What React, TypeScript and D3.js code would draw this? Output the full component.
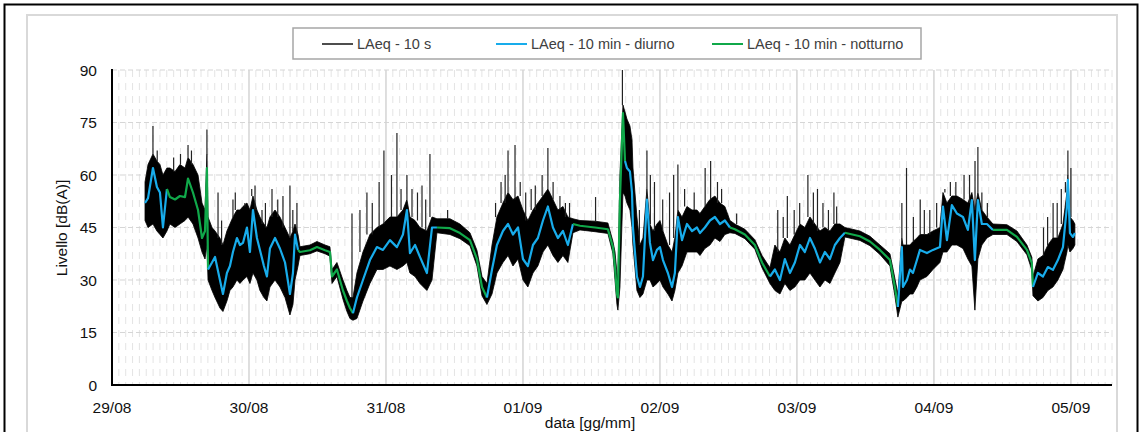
import React from 'react';
import * as d3 from 'd3';

// ---------- DATA (t = days since 29/08 00:00) ----------
const dayLabels = ['29/08', '30/08', '31/08', '01/09', '02/09', '03/09', '04/09', '05/09'];
const yTicks = [0, 15, 30, 45, 60, 75, 90];

const times = [
  0.241, 0.263, 0.299, 0.328, 0.350, 0.372, 0.401, 0.423, 0.460, 0.496, 0.533, 0.555, 0.591, 0.628, 0.657, 0.679, 0.693, 0.701,
  0.730, 0.752, 0.788, 0.810, 0.839, 0.861, 0.883, 0.912, 0.934, 0.956, 0.985, 1.007, 1.029, 1.058, 1.080, 1.109, 1.131, 1.153, 1.190, 1.226, 1.263, 1.299, 1.321, 1.336, 1.358,
  1.372, 1.445, 1.496, 1.555, 1.591, 1.606, 1.642, 1.686, 1.715, 1.737, 1.759,
  1.788, 1.832, 1.883, 1.934, 1.978, 2.029, 2.080, 2.124, 2.153, 2.175, 2.212, 2.248, 2.299, 2.336,
  2.372, 2.467, 2.540, 2.613, 2.664, 2.701, 2.737,
  2.774, 2.810, 2.854, 2.891, 2.927, 2.964, 3.000, 3.036, 3.073, 3.109, 3.146, 3.182, 3.219, 3.255, 3.292, 3.328, 3.365,
  3.416, 3.526, 3.620, 3.657, 3.672, 3.686, 3.693, 3.708, 3.730, 3.745,
  3.759, 3.781, 3.796, 3.803, 3.832, 3.854, 3.876, 3.905, 3.927, 3.949, 3.978, 4.000, 4.022, 4.058, 4.088, 4.109, 4.131, 4.161, 4.197, 4.234, 4.270, 4.292, 4.328, 4.365, 4.401, 4.438, 4.474, 4.511,
  4.547, 4.620, 4.693, 4.745, 4.803,
  4.839, 4.876, 4.912, 4.949, 4.985, 5.022, 5.058, 5.095, 5.131, 5.168, 5.204, 5.241, 5.277, 5.314,
  5.350, 5.460, 5.533, 5.606, 5.679, 5.715, 5.737,
  5.766, 5.774, 5.803, 5.825, 5.847, 5.876, 5.898, 5.949, 5.993, 6.044, 6.066, 6.095, 6.131, 6.168, 6.212, 6.248, 6.277, 6.299, 6.321, 6.350, 6.387,
  6.431, 6.533, 6.606, 6.679, 6.715, 6.723,
  6.759, 6.796, 6.832, 6.869, 6.905, 6.942, 6.971, 6.978, 6.993, 7.015, 7.029,
];

// LAeq - 10 min
const laeq10min = [
  52, 53.4, 62, 56.6, 55, 45, 56, 53.7, 53, 54, 53.7, 59, 55, 50, 42, 44, 62, 33,
  35, 36.6, 30, 26, 32, 34, 38, 42, 40, 40.6, 45, 38, 50, 42, 38.6, 34, 31, 39, 42, 39, 35, 26, 32, 43, 38.6,
  38, 38.5, 39.4, 38.5, 38, 31, 33, 27, 24, 22, 20.5,
  25, 30, 35.7, 39.4, 38.6, 41.4, 39.4, 43, 50, 37.7, 40, 36.6, 32, 45,
  45, 44.8, 43.4, 41.4, 36, 28, 25,
  33, 40, 44, 46, 43, 45, 36, 34, 40, 42, 47, 51, 45, 42, 44, 40, 46,
  45.5, 45, 44.5, 39.4, 33.7, 26, 25, 53, 77.7, 64,
  62, 61, 55, 45, 31, 28, 31, 53, 40.6, 35.7, 38.6, 39.4, 35.7, 32, 28, 32, 48, 41.4, 46, 44, 45, 43.4, 45, 47, 48, 46, 47, 45,
  44.5, 43, 40, 35, 31,
  33, 30, 36, 32, 35, 40, 38, 42, 39, 35, 38, 36, 40, 42,
  43.5, 42.5, 41, 38.6, 35.7, 28, 22.3,
  39.4, 28, 30, 33, 32, 35.7, 38.6, 37.7, 38.6, 39.4, 51, 41.4, 51.4, 49, 48, 44.3, 52.8, 35.7, 52.8, 46, 46,
  44.3, 44.3, 42.3, 38.6, 34.8, 28,
  32, 31, 33.7, 32.9, 35.7, 39.4, 51, 58.6, 43.4, 42.3, 43.4,
];

// LAeq - 10 s : lower and upper envelope of the dense trace
const laeq10sMin = [
  47, 45, 46, 44, 43, 42, 44, 46, 45, 46, 47, 48, 46, 42, 38, 36, 40, 30,
  27, 25, 22, 21, 24, 27, 28, 30, 29, 30, 31, 29, 32, 30, 27, 25, 24, 28, 30, 28, 25, 20, 23, 30, 34,
  37, 37.5, 38.3, 37.5, 36.8, 29, 31, 24.5, 21, 19, 18.5,
  19, 24, 29, 33, 33, 34, 33, 34, 35, 32, 31, 29, 27, 30,
  43.5, 43, 41.8, 39.8, 34, 25.5, 23,
  26, 32, 35, 37, 34, 36, 30, 28, 32, 34, 38, 40, 37, 35, 37, 35, 43.5,
  44.3, 43.8, 43.3, 37.5, 30, 23, 21.4, 28, 55, 54,
  52, 50, 45, 40, 27, 25, 26, 30, 30, 28, 29, 30, 28, 26, 24, 27, 32, 34, 38, 38, 38, 37, 39, 40, 42, 41, 43, 43.5,
  43.3, 41.8, 38.8, 33.5, 29,
  27, 26, 29, 27, 28, 30, 30, 32, 30, 28, 30, 29, 32, 35,
  42.3, 41.3, 39.8, 37.3, 34, 25.5, 19.4,
  24, 24, 25, 26, 26, 28, 30, 31, 33, 35, 38, 38, 40, 40, 39, 36, 34, 21.4, 36, 40, 42,
  43, 43, 41, 37.2, 32.8, 25.5,
  24, 25, 27, 28, 30, 33, 38, 40, 38, 39, 40,
];
const laeq10sMax = [
  58, 63, 66, 64, 63, 60, 62, 62, 61, 63, 62, 65, 63, 60, 52, 50, 66, 48,
  45, 44, 42, 40, 44, 46, 48, 50, 50, 51, 52, 50, 54, 50, 48, 46, 45, 48, 50, 48, 45, 42, 44, 46, 43,
  39.5, 40, 41, 40, 39.5, 33, 35, 30, 27, 25, 25,
  32, 38, 43, 45, 46, 48, 48, 50, 53, 48, 47, 45, 44, 48,
  47.5, 47.5, 46, 43.5, 38.5, 31, 29,
  40, 48, 52, 55, 53, 54, 50, 47, 50, 52, 54, 56, 53, 50, 51, 48, 47.5,
  47, 46.8, 46.3, 41, 38, 32, 30, 60, 80, 78,
  76, 74, 70, 62, 48, 40, 42, 56, 46, 44, 46, 47, 44, 40, 38, 42, 50, 48, 51, 50, 50, 49, 51, 53, 54, 52, 51, 47,
  46, 44.5, 41.5, 37, 33.5,
  40, 38, 42, 40, 43, 46, 45, 48, 46, 44, 45, 44, 46, 46,
  45, 44, 42.5, 40, 37.5, 30.5, 26,
  42, 40, 40, 40, 41, 42, 43, 43, 44, 45, 55, 52, 54, 54, 53, 52, 55, 50, 55, 50, 48,
  46, 45.8, 44, 40, 36.5, 31,
  36, 37, 40, 42, 42, 46, 55, 60, 48, 47, 46,
];

// isolated peaks of the 10 s trace
const spikeTimes = [
  0.299, 0.33, 0.45, 0.50, 0.555, 0.58, 0.693,
  0.774, 0.80, 0.883, 0.90, 0.970, 1.02, 1.044, 1.095, 1.12, 1.168, 1.21, 1.248, 1.299, 1.32, 1.350,
  1.752,
  1.810, 1.861, 1.90, 1.95, 1.985, 2.04, 2.080, 2.11, 2.153, 2.190, 2.23, 2.263, 2.29, 2.321,
  2.45,
  2.80, 2.84, 2.87, 2.891, 2.942, 2.98, 3.020, 3.06, 3.090, 3.14, 3.182, 3.22, 3.270, 3.310, 3.34,
  3.53, 3.726, 3.85, 3.905, 3.93, 3.96, 4.02, 4.07, 4.10, 4.131, 4.18, 4.25,
  4.33, 4.37, 4.42, 4.45, 4.56,
  4.86, 4.90, 4.93, 4.98, 5.02, 5.08, 5.12, 5.15, 5.19, 5.23, 5.27, 5.29,
  5.766, 5.80, 5.85, 5.90, 5.93, 5.97, 6.02, 6.08, 6.12, 6.16, 6.22, 6.26, 6.30, 6.321, 6.35, 6.39,
  6.80, 6.83, 6.87, 6.90, 6.93, 6.96, 6.978, 7.00,
];
const spikeLevels = [
  74, 67, 65, 66, 68.6, 67, 73,
  55, 47, 53, 55, 52, 56, 57, 50, 52, 56, 53, 54, 57, 50, 52,
  49,
  50, 55, 52, 58, 67, 60, 72, 56, 60, 56, 55, 57, 53, 66,
  50,
  52, 58, 60, 67, 68.6, 58, 55, 56, 57, 60, 67.7, 58, 54, 52, 52,
  53.7, 90, 50, 67, 60, 58, 53, 55, 60, 63, 56, 55,
  62, 64, 58, 56, 49,
  50, 48, 54, 50, 52, 60, 55, 56, 52, 50, 55, 51,
  52, 62, 48, 53, 50, 50, 52, 56, 58, 58, 60, 60, 64, 68, 55, 52,
  45, 48, 52, 52, 56, 58, 67, 62,
];

// night periods (notturno) shown in green
const nightStarts = [0.41, 1.365, 2.37, 3.36, 4.51, 5.34, 6.42];
const nightEnds = [0.70, 1.76, 2.74, 3.745, 4.80, 5.74, 6.72];

const legendLabels = ['LAeq - 10 s', 'LAeq - 10 min - diurno', 'LAeq - 10 min - notturno'];
const COLORS = { s10: '#000000', day: '#18ACEB', night: '#10A84A' };

type P = { t: number; m: number; lo: number; hi: number };

export default function App() {
  const x = d3.scaleLinear().domain([0, 7.3]).range([112, 1112]);
  const y = d3.scaleLinear().domain([0, 90]).range([385, 70]);

  const n = Math.min(times.length, laeq10min.length, laeq10sMin.length, laeq10sMax.length);
  const pts: P[] = d3.range(n).map((i) => ({ t: times[i], m: laeq10min[i], lo: laeq10sMin[i], hi: laeq10sMax[i] }));

  const area = d3
    .area<P>()
    .x((d) => x(d.t))
    .y0((d) => y(d.lo))
    .y1((d) => y(d.hi));

  const isNight = (t: number) => nightStarts.some((s, i) => t >= s && t <= nightEnds[i]);
  const runs: { night: boolean; pts: P[] }[] = [];
  for (let i = 0; i < n - 1; i++) {
    const night = isNight((pts[i].t + pts[i + 1].t) / 2);
    const last = runs[runs.length - 1];
    if (last && last.night === night) last.pts.push(pts[i + 1]);
    else runs.push({ night, pts: [pts[i], pts[i + 1]] });
  }
  const line = d3
    .line<P>()
    .x((d) => x(d.t))
    .y((d) => y(d.m));

  const hiAt = (t: number) => {
    const i = d3.bisector((d: P) => d.t).center(pts, t);
    return pts[i].hi;
  };

  const top = y(90);
  const bot = y(0);
  const minor: number[] = [];
  for (let k = 1; k <= 146; k++) if (k % 20 !== 0) minor.push(k / 20);

  const font = '"Liberation Sans", Arial, sans-serif';
  const ns = Math.min(spikeTimes.length, spikeLevels.length);

  const legendItems = [
    { label: legendLabels[0], color: '#4d4d4d', x0: 322 },
    { label: legendLabels[1], color: COLORS.day, x0: 496 },
    { label: legendLabels[2], color: COLORS.night, x0: 712 },
  ];

  return (
    <svg width={1141} height={432} style={{ position: 'absolute', left: 0, top: 0, background: '#fff' }}>
      <rect x={0} y={0} width={1141} height={432} fill="#fff" />
      <rect x={4.5} y={4.5} width={1133} height={460} fill="none" stroke="#000" strokeWidth={2} />
      <rect x={27} y={15} width={1090} height={460} fill="none" stroke="#d9d9d9" strokeWidth={2} />

      {minor.map((d) => (
        <line key={'mv' + d} x1={x(d)} x2={x(d)} y1={top} y2={bot} stroke="#e4e4e4" strokeWidth={1} strokeDasharray="7 6" />
      ))}
      {yTicks.filter((v) => v > 0).map((v) => (
        <line key={'h' + v} x1={x(0)} x2={x(7.3)} y1={y(v)} y2={y(v)} stroke="#d6d6d6" strokeWidth={1.2} strokeDasharray="5 3" />
      ))}
      {dayLabels.map((_, i) =>
        i > 0 ? <line key={'v' + i} x1={x(i)} x2={x(i)} y1={top} y2={bot} stroke="#d4d4d4" strokeWidth={1.5} /> : null
      )}

      <path d={area(pts) || ''} fill={COLORS.s10} stroke={COLORS.s10} strokeWidth={0.8} strokeLinejoin="round" />
      {d3.range(ns).map((i) => (
        <line
          key={'s' + i}
          x1={x(spikeTimes[i])}
          x2={x(spikeTimes[i])}
          y1={y(Math.min(90, spikeLevels[i]))}
          y2={y(hiAt(spikeTimes[i]))}
          stroke="#222"
          strokeWidth={1.2}
        />
      ))}

      {runs.map((r, i) => (
        <path
          key={'r' + i}
          d={line(r.pts) || ''}
          fill="none"
          stroke={r.night ? COLORS.night : COLORS.day}
          strokeWidth={2.2}
          strokeLinejoin="round"
        />
      ))}

      <line x1={x(0)} x2={x(0)} y1={top - 1} y2={bot + 1} stroke="#000" strokeWidth={2} />
      <line x1={x(0) - 1} x2={x(7.3)} y1={bot} y2={bot} stroke="#000" strokeWidth={2} />

      {yTicks.map((v) => (
        <text key={'yt' + v} x={97} y={y(v) + 5.5} textAnchor="end" fontFamily={font} fontSize={15.5} fill="#111">
          {v}
        </text>
      ))}
      {dayLabels.map((lab, i) => (
        <text key={'xt' + i} x={x(i)} y={413} textAnchor="middle" fontFamily={font} fontSize={15.5} fill="#111">
          {lab}
        </text>
      ))}

      <text x={590} y={428} textAnchor="middle" fontFamily={font} fontSize={15.5} fill="#111">
        data [gg/mm]
      </text>
      <text transform="translate(67,228) rotate(-90)" textAnchor="middle" fontFamily={font} fontSize={15.5} fill="#111">
        Livello [dB(A)]
      </text>

      <rect x={293} y={28} width={628} height={31} fill="#fff" stroke="#a6a6a6" strokeWidth={1.5} />
      {legendItems.map((it) => (
        <g key={it.label}>
          <line x1={it.x0} x2={it.x0 + 31} y1={44} y2={44} stroke={it.color} strokeWidth={2} />
          <text x={it.x0 + 35} y={49} fontFamily={font} fontSize={14.5} fill="#404040">
            {it.label}
          </text>
        </g>
      ))}
    </svg>
  );
}
